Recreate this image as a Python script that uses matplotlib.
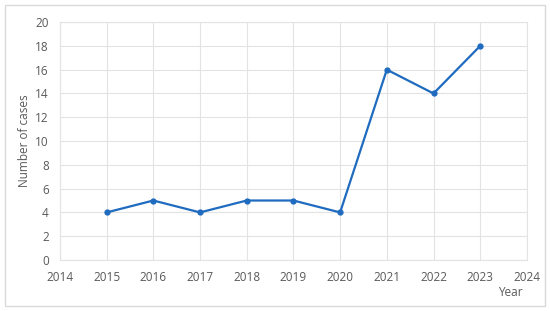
import matplotlib.pyplot as plt
from matplotlib.patches import Rectangle

years = [2015, 2016, 2017, 2018, 2019, 2020, 2021, 2022, 2023]
cases = [4, 5, 4, 5, 5, 4, 16, 14, 18]

plt.rcParams['font.family'] = ['Open Sans', 'DejaVu Sans']
text_col = '#595959'
grid_col = '#E3E3E3'

fig = plt.figure(figsize=(5.5, 3.11), dpi=100)
ax = fig.add_axes([0.109, 0.164, 0.849, 0.765])

# outer chart border
fig.patches.append(Rectangle((5 / 550, 5 / 311), 540 / 550, 301 / 311,
                             transform=fig.transFigure, fill=False,
                             edgecolor='#D9D9D9', linewidth=1))

ax.plot(years, cases, color='#1F6BBF', linewidth=1.6, marker='o', markersize=3.5)

ax.set_xlim(2014, 2024)
ax.set_ylim(0, 20)
ax.set_xticks(range(2014, 2025))
ax.set_yticks(range(0, 21, 2))
ax.grid(True, color=grid_col, linewidth=0.8)
ax.set_axisbelow(True)
for s in ax.spines.values():
    s.set_color(grid_col)
    s.set_linewidth(0.8)
ax.tick_params(length=0, colors=text_col, labelsize=8.5)
ax.tick_params(axis='x', pad=8)
ax.tick_params(axis='y', pad=8)

ax.set_ylabel('Number of cases', fontsize=8.5, color=text_col, labelpad=3)
fig.text(510 / 550, 1 - 293 / 311, 'Year', fontsize=8.5, color=text_col,
         ha='center', va='center')

fig.savefig('out.png', dpi=100)
